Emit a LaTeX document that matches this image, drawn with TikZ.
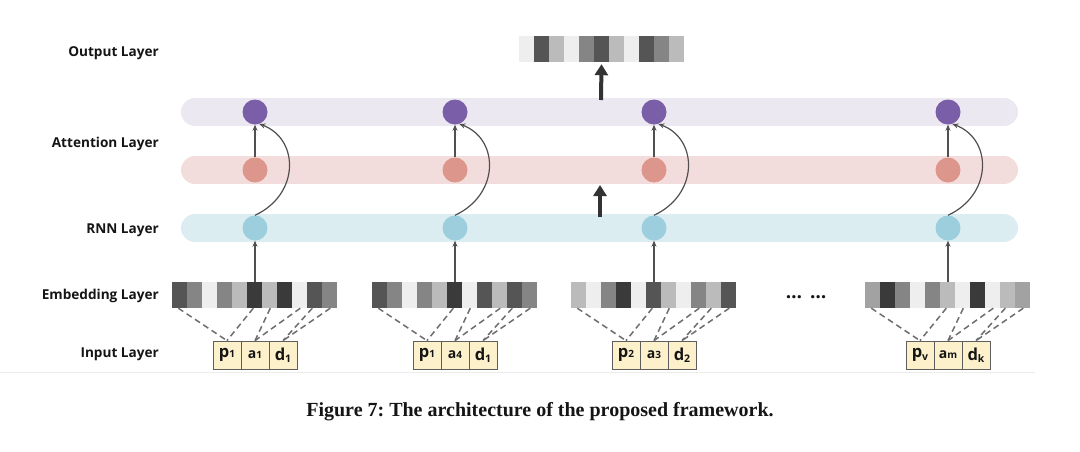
\documentclass[tikz,border=0pt]{standalone}
\usepackage{fontspec}
\setmainfont{Open Sans}
\newfontfamily\capfont{Liberation Serif}
\usetikzlibrary{arrows.meta,calc}
\frenchspacing
\definecolor{tE}{HTML}{EEEEEE}
\definecolor{tL}{HTML}{BBBBBB}
\definecolor{tA}{HTML}{A2A2A2}
\definecolor{tM}{HTML}{858585}
\definecolor{tD}{HTML}{555555}
\definecolor{tK}{HTML}{3A3A3A}
\definecolor{bandP}{HTML}{EBE8F1}
\definecolor{bandR}{HTML}{F3DDDC}
\definecolor{bandB}{HTML}{DCEDF1}
\definecolor{cP}{HTML}{7A5EA8}
\definecolor{cR}{HTML}{DD968C}
\definecolor{cB}{HTML}{9DCEDD}
\definecolor{boxfill}{HTML}{FDF1CC}
\definecolor{boxline}{HTML}{5E5E5E}
\definecolor{txt}{HTML}{151515}
\definecolor{arr}{HTML}{505050}
\definecolor{thick}{HTML}{333333}
\definecolor{sep}{HTML}{ECECEC}
\newcommand\mystrip[4]{%
  \node[stripnode] (#1) at (#2,#3) {};
  \foreach \c [count=\k] in {#4} {\fill[fill=\c] ($(#1.north west)+({15*(\k-1)},0)$) rectangle +(15,26);}
}
\newcommand\bigL[1]{{\fontsize{16.5}{16.5}\selectfont\bfseries #1}}
\newcommand\midL[1]{{\fontsize{14}{14}\selectfont\bfseries #1}}
\newcommand\subL[1]{{\fontsize{10}{10}\selectfont\bfseries #1}}
\newcommand\lowL[1]{\raisebox{-2.5pt}{\fontsize{10.5}{10.5}\selectfont\bfseries #1}}
\begin{document}
\begin{tikzpicture}[x=1pt,y=-1pt,
  layerlabel/.style={anchor=east,inner sep=0pt,text=txt,font=\bfseries\fontsize{13.6}{15}\selectfont},
  band/.style={line cap=round,line width=28pt},
  circ/.style={circle,minimum size=25pt,inner sep=0pt,draw=none},
  stripnode/.style={rectangle,minimum width=165pt,minimum height=26pt,inner sep=0pt,draw=none},
  incell/.style={rectangle,minimum width=28pt,minimum height=28pt,inner sep=0pt,fill=boxfill,draw=boxline,line width=0.8pt,text=txt},
  thinarrow/.style={draw=arr,line width=1.2pt,-{Stealth[length=6pt,width=5pt]}},
  thickarrow/.style={draw=thick,line width=4pt,-{Triangle[length=11pt,width=13pt]}},
  dashline/.style={draw=tD!85,line width=1.5pt,dash pattern=on 6pt off 4pt}
]
\useasboundingbox (0,0) rectangle (1080,451);
\fill[white] (0,0) rectangle (1080,451);
\draw[sep,line width=1pt] (0,372) -- (1035,372);

% labels
\node[layerlabel] (lo) at (159,53) {Output Layer};
\node[layerlabel] (la) at (159,144) {Attention Layer};
\node[layerlabel] (lr) at (159,230) {RNN Layer};
\node[layerlabel] (le) at (159,296) {Embedding Layer};
\node[layerlabel] (li) at (159,354) {Input Layer};

% bands
\draw[band,draw=bandP] (195,112) -- (1004,112);
\draw[band,draw=bandR] (195,170) -- (1004,170);
\draw[band,draw=bandB] (195,228) -- (1004,228);

% output strip
\mystrip{out}{601.5}{49}{tE,tD,tL,tE,tM,tD,tL,tE,tD,tM,tL}
\coordinate (ot) at (601,100);
\draw[thickarrow] (ot) -- ([yshift=-2pt]out.south);
\coordinate (mb) at (600,217);
\coordinate (mt) at (600,185);
\draw[thickarrow] (mb) -- (mt);

% embedding strips
\mystrip{e1}{255}{295}{tD,tM,tE,tM,tL,tK,tL,tK,tE,tD,tM}
\mystrip{e2}{455}{295}{tD,tM,tE,tM,tL,tK,tE,tD,tL,tD,tM}
\mystrip{e3}{654}{295}{tL,tE,tM,tK,tE,tD,tL,tE,tM,tL,tD}
\mystrip{e4}{948}{295}{tA,tK,tM,tE,tM,tL,tE,tK,tE,tL,tA}

\node[inner sep=0pt,text=txt,font=\bfseries\fontsize{19}{19}\selectfont] (dots) at (806,297) {…\hspace{8pt}…};

% circles and arrows
\foreach \i/\x in {1/255,2/455,3/654,4/948} {
  \node[circ,fill=cP] (a\i) at (\x,112) {};
  \node[circ,fill=cR] (h\i) at (\x,170) {};
  \node[circ,fill=cB] (r\i) at (\x,228) {};
  \draw[thinarrow] (e\i.north) -- (r\i.south);
  \draw[thinarrow] (h\i.north) -- (a\i.south);
  \draw[thinarrow] (r\i.north) .. controls +(45,-21) and +(40,15) .. (a\i.290);
}

% input boxes
\foreach \i/\x/\P/\A/\D in {%
  1/255/{\bigL{p}\subL{1}}/{\midL{a}\subL{1}}/{\bigL{d}\lowL{1}},
  2/455/{\bigL{p}\subL{1}}/{\midL{a}\subL{4}}/{\bigL{d}\lowL{1}},
  3/654/{\bigL{p}\subL{2}}/{\midL{a}\subL{3}}/{\bigL{d}\lowL{2}},
  4/948/{\bigL{p}\lowL{v}}/{\midL{a}\subL{m}}/{\bigL{d}\lowL{k}}} {
  \node[incell] (p\i) at (\x-28,355) {\P};
  \node[incell] (q\i) at (\x,355) {\A};
  \node[incell] (d\i) at (\x+28,355) {\D};
  \draw[dashline] ($(e\i.south west)+(6,0)$) -- (p\i.north);
  \draw[dashline] ($(e\i.south west)+(81,0)$) -- (p\i.north);
  \draw[dashline] ($(e\i.south west)+(98,0)$) -- (q\i.north);
  \draw[dashline] ($(e\i.south west)+(128,0)$) -- (q\i.north);
  \draw[dashline] ($(e\i.south west)+(140,0)$) -- (d\i.north);
  \draw[dashline] ($(e\i.south west)+(158,0)$) -- (d\i.north);
}

% caption
\node[inner sep=0pt,text=txt,font=\capfont\bfseries\fontsize{20}{22}\selectfont] (cap) at (540,412) {Figure 7: The architecture of the proposed framework.};
\end{tikzpicture}
\end{document}
